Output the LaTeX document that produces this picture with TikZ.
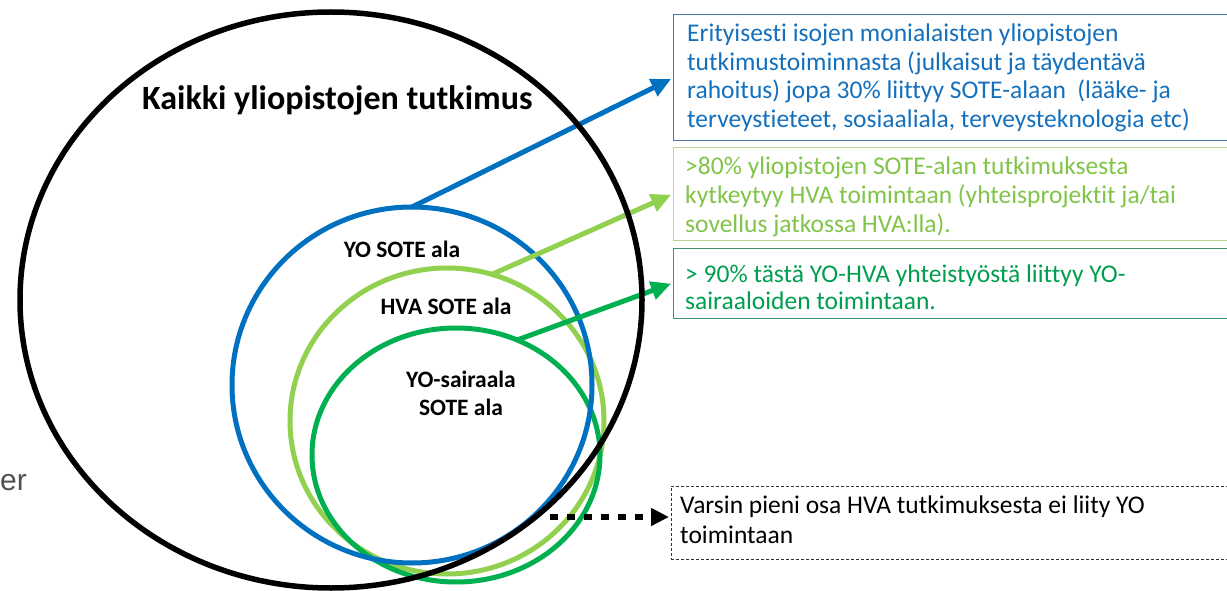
\documentclass[tikz,border=0pt]{standalone}
\usepackage{fontspec}
\setmainfont{Carlito}[Ligatures=CommonOff]
\newfontfamily\arialf{Liberation Sans}
\usetikzlibrary{shapes.geometric,arrows.meta}
\definecolor{cblue}{RGB}{0,112,192}
\definecolor{clgreen}{RGB}{146,208,80}
\definecolor{cdgreen}{RGB}{0,176,80}
\definecolor{tblue}{RGB}{20,112,188}
\definecolor{tlgreen}{RGB}{128,196,72}
\definecolor{tdgreen}{RGB}{0,158,78}
\definecolor{bblue}{RGB}{70,120,170}
\definecolor{blgreen}{RGB}{185,215,145}
\definecolor{bdgreen}{RGB}{60,150,105}
\definecolor{cgray}{RGB}{80,80,80}
\begin{document}
\begin{tikzpicture}[x=1pt,y=-1pt,
  ring/.style={ellipse, draw, line width=5pt, inner sep=0pt, outer sep=0pt},
  linetext/.style={anchor=base west, inner sep=0pt, font=\fontsize{25.5}{30}\selectfont},
  ringtext/.style={anchor=base, inner sep=0pt, font=\bfseries\fontsize{23.5}{28}\selectfont},
  infobox/.style={draw, line width=1pt, anchor=north west, inner sep=0pt, outer sep=0pt, minimum width=600pt},
  ptr/.style={line width=5pt, -{Triangle[length=20pt,width=18pt]}, shorten >=2pt},
  dotptr/.style={line width=6pt, dash pattern=on 8pt off 9pt, -{Triangle[length=18pt,width=17pt]}, shorten >=2pt}
]
\useasboundingbox (0,0) rectangle (1227,591);
\clip (0,0) rectangle (1227,591);

% boxes
\node[infobox, draw=bblue, minimum height=126pt] (b1) at (673,15) {};
\node[infobox, draw=blgreen, minimum height=92pt] (b2) at (673,148) {};
\node[infobox, draw=bdgreen, minimum height=70pt] (b3) at (673,248) {};
\node[infobox, draw=black!80, line width=0.8pt, dash pattern=on 3pt off 2pt, minimum height=73pt] (b4) at (671,486) {};

% box texts
\begin{scope}[every node/.style={linetext}]
\node[text=tblue] (t11) at (687,42) {Erityisesti isojen monialaisten yliopistojen};
\node[text=tblue] (t12) at (687,70.5) {tutkimustoiminnasta (julkaisut ja täydentävä};
\node[text=tblue] (t13) at (687,99) {rahoitus) jopa 30\% liittyy SOTE-alaan~~(lääke- ja};
\node[text=tblue] (t14) at (687,127.5) {terveystieteet, sosiaaliala, terveysteknologia etc)};
\node[text=tlgreen] (t21) at (685,175) {>80\% yliopistojen SOTE-alan tutkimuksesta};
\node[text=tlgreen] (t22) at (685,204) {kytkeytyy HVA toimintaan (yhteisprojektit ja/tai};
\node[text=tlgreen] (t23) at (685,233) {sovellus jatkossa HVA:lla).};
\node[text=tdgreen] (t31) at (685,282) {> 90\% tästä YO-HVA yhteistyöstä liittyy YO-};
\node[text=tdgreen] (t32) at (685,309) {sairaaloiden toimintaan.};
\node[text=black] (t41) at (680,513) {Varsin pieni osa HVA tutkimuksesta ei liity YO};
\node[text=black] (t42) at (680,543) {toimintaan};
\end{scope}

% rings
\node[ring, draw=clgreen, minimum width=314pt, minimum height=306pt] (hva) at (447,421) {};
\node[ring, draw=cdgreen, minimum width=288pt, minimum height=254pt] (sai) at (456,455) {};
\node[ring, draw=cblue, minimum width=360pt, minimum height=356pt] (yo) at (412,385) {};

% arrows
\draw[ptr, cblue] (yo.north) -- (b1.west);
\draw[ptr, clgreen] (hva.73) -- (b2.west);
\draw[ptr, cdgreen] (sai.62) -- (b3.west);
\coordinate (dstart) at (550,517);
\draw[dotptr, black] (dstart) -- (dstart -| b4.west);

\node[ring, draw=black, line width=5.5pt, minimum width=622pt, minimum height=576pt] (all) at (331,300) {};

% ring labels
\node[anchor=base west, inner sep=0pt, font=\bfseries\fontsize{34}{39}\selectfont] (kaikki) at (142,110) {Kaikki yliopistojen tutkimus};
\node[ringtext] (l1) at (402,257) {YO SOTE ala};
\node[ringtext] (l2) at (446,314) {HVA SOTE ala};
\node[ringtext] (l3) at (461,387) {YO-sairaala};
\node[ringtext] (l4) at (461,415) {SOTE ala};

\node[anchor=base west, inner sep=0pt, text=cgray, font=\arialf\fontsize{30}{36}\selectfont] (er) at (0,490) {er};
\end{tikzpicture}
\end{document}
